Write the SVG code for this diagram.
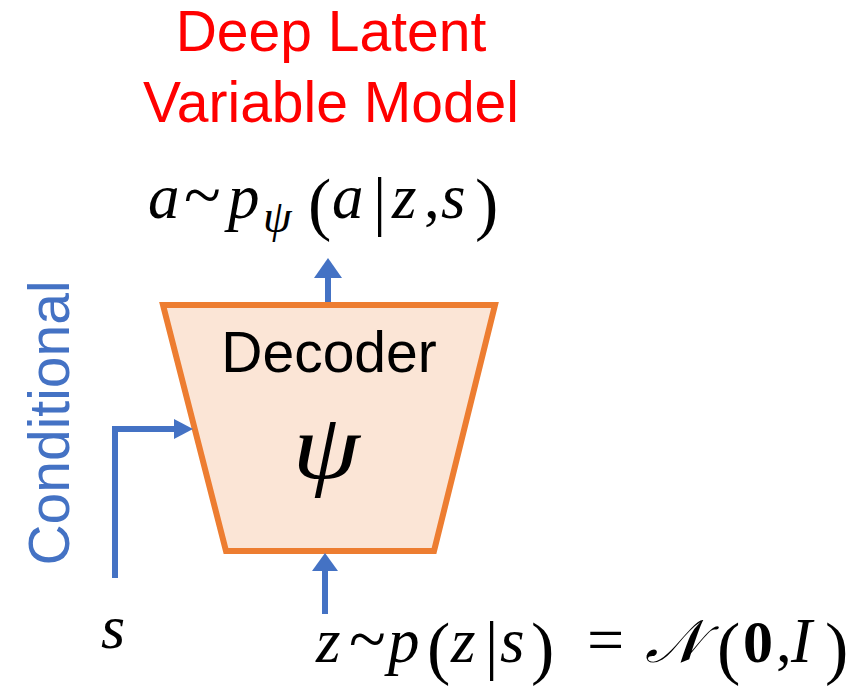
<svg xmlns="http://www.w3.org/2000/svg" width="863" height="689" viewBox="0 0 863 689">
<style>
.title{font-family:"Liberation Sans",Arial,sans-serif;font-size:57px;fill:#FF0000;text-anchor:middle}
.sans{font-family:"Liberation Sans",Arial,sans-serif}
.m{font-family:"Liberation Serif","Times New Roman",serif;fill:#000}
.i{font-style:italic}
.conn{stroke:#4472C4;stroke-width:6;fill:none}
.head{fill:#4472C4}
</style>
<rect width="863" height="689" fill="#FFFFFF"/>
<g id="title">
<text class="title" x="331" y="51">Deep Latent</text>
<text class="title" x="331" y="122">Variable Model</text>
</g>
<g id="decoder">
<polygon points="163,305 495,305 434,551 226,551" fill="#FBE5D6" stroke="#ED7D31" stroke-width="6" stroke-linejoin="miter"/>
<text class="sans" x="329" y="372" font-size="57" text-anchor="middle" fill="#000">Decoder</text>
<text class="m i" transform="translate(326,478) scale(1.15,1)" font-size="94" text-anchor="middle">ψ</text>
</g>
<g id="connectors">
<line class="conn" x1="328" y1="302" x2="328" y2="275"/>
<polygon class="head" points="328,258 314,278 342,278"/>
<line class="conn" x1="325" y1="614" x2="325" y2="568"/>
<polygon class="head" points="325,553 312,571 338,571"/>
<polyline class="conn" points="115,578 115,429 176,429"/>
<polygon class="head" points="193,429 174,419 174,439"/>
</g>
<g id="label-conditional">
<text class="sans" transform="translate(69,423) rotate(-90)" font-size="57" text-anchor="middle" fill="#4472C4">Conditional</text>
</g>
<g id="label-output">
<text class="m" font-size="63"><tspan class="i" x="148" y="218">a</tspan><tspan x="184" y="218" font-size="68">~</tspan><tspan class="i" x="228" y="218">p</tspan><tspan class="i" x="263" y="232" font-size="46">ψ</tspan><tspan x="308" y="227" font-size="70">(</tspan><tspan class="i" x="332" y="218">a</tspan><tspan x="373" y="223" font-size="66">|</tspan><tspan class="i" x="392" y="218">z</tspan><tspan x="424" y="218">,</tspan><tspan class="i" x="441" y="218">s</tspan><tspan x="475" y="227" font-size="70">)</tspan></text>
</g>
<g id="label-s">
<text class="m i" x="101" y="648" font-size="62">s</text>
</g>
<g id="label-prior">
<text class="m" font-size="63"><tspan class="i" x="316" y="662">z</tspan><tspan x="349" y="662" font-size="68">~</tspan><tspan class="i" x="388" y="662">p</tspan><tspan x="427" y="671" font-size="70">(</tspan><tspan class="i" x="451" y="662">z</tspan><tspan x="485" y="667" font-size="66">|</tspan><tspan class="i" x="500" y="662">s</tspan><tspan x="531" y="671" font-size="70">)</tspan><tspan x="587" y="662" font-size="66">=</tspan><tspan class="i" x="645" y="662" font-size="60">𝒩</tspan><tspan x="717" y="671" font-size="70">(</tspan><tspan x="743" y="662" font-weight="bold" font-size="60">0</tspan><tspan x="776" y="662">,</tspan><tspan class="i" x="791" y="662">I</tspan><tspan x="825" y="671" font-size="70">)</tspan></text>
</g>
</svg>
